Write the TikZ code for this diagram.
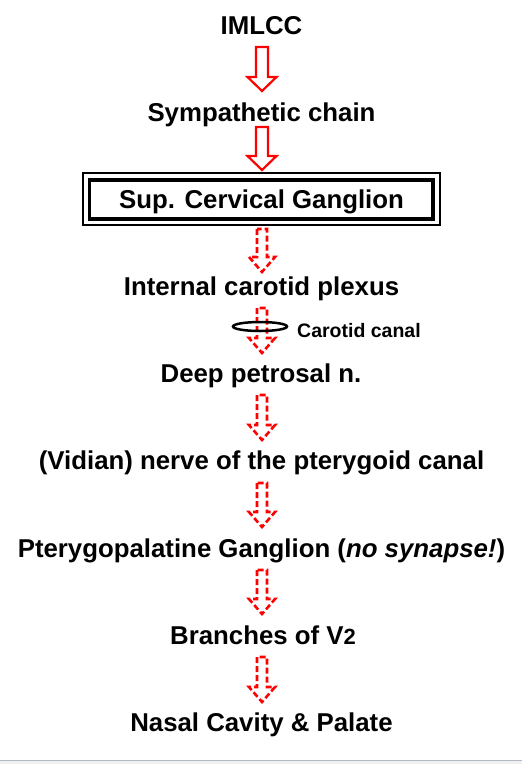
\documentclass[tikz,border=0pt]{standalone}
\usepackage{fontspec}
\setmainfont{Liberation Sans}
\usetikzlibrary{calc}
\definecolor{arrred}{RGB}{255,0,0}
\definecolor{barline}{RGB}{178,186,200}
\definecolor{barfill}{RGB}{240,240,240}
\newcommand{\blockarr}[6]{% style, top, tip, shaft half width, head half width, head length
  \draw[#1] ($(#2)+(-#4,0)$) -- ($(#3)+(-#4,-#6)$) -- ($(#3)+(-#5,-#6)$) -- (#3)
    -- ($(#3)+(#5,-#6)$) -- ($(#3)+(#4,-#6)$) -- ($(#2)+(#4,0)$) -- cycle;}
\begin{document}
\begin{tikzpicture}[x=1pt,y=-1pt,
  lbl/.style={font=\bfseries\fontsize{25.8}{30}\selectfont, inner sep=0pt, anchor=base},
  small/.style={font=\bfseries\fontsize{19.5}{22}\selectfont, inner sep=0pt, anchor=base west},
  solidarr/.style={draw=arrred, line width=2.2pt, line join=miter},
  dasharr/.style={draw=arrred, line width=2.6pt, dash pattern=on 6pt off 3pt, line join=miter},
  outerbox/.style={draw=black, line width=2.2pt},
  innerbox/.style={draw=black, line width=3.2pt}]
\useasboundingbox (0,0) rectangle (522,764);
\fill[barfill] (0,760) rectangle (522,764);
\draw[barline, line width=1pt] (0,760.5) -- (522,760.5);

\node[lbl] (imlcc) at (261.5,34) {IMLCC};
\node[lbl] (symp) at (261.5,121) {Sympathetic chain};
\node[lbl] (scg) at (261.5,208) {Sup. Cervical Ganglion};
\node[lbl] (icp) at (261.5,295.5) {Internal carotid plexus};
\node[lbl] (dpn) at (261,382.5) {Deep petrosal n.};
\node[lbl] (vid) at (261.5,469.5) {(Vidian) nerve of the pterygoid canal};
\node[lbl] (ptg) at (261.5,557) {Pterygopalatine Ganglion (\textit{no synapse!})};
\node[lbl] (v2) at (263,644) {Branches of V{\fontsize{22}{24}\selectfont 2}};
\node[lbl] (nasal) at (261.5,731) {Nasal Cavity \& Palate};
\node[small] (canaltxt) at (297,337) {Carotid canal};

\draw[outerbox] (83,173) rectangle (440,225);
\draw[innerbox] (89.5,180) rectangle (433,219);

\coordinate (a1s) at (262,47);  \coordinate (a1e) at (262,91);
\coordinate (a2s) at (262,127); \coordinate (a2e) at (262,170);
\coordinate (a3s) at (262,229); \coordinate (a3e) at (262,272);
\coordinate (a4s) at (262,308); \coordinate (a4e) at (262,353);
\coordinate (a5s) at (262,395); \coordinate (a5e) at (262,440);
\coordinate (a6s) at (262,483); \coordinate (a6e) at (262,527);
\coordinate (a7s) at (262,570); \coordinate (a7e) at (262,614);
\coordinate (a8s) at (262,657); \coordinate (a8e) at (262,702);

\blockarr{solidarr}{a1s}{a1e}{6}{14.5}{14}
\blockarr{solidarr}{a2s}{a2e}{6}{14.5}{14}
\blockarr{dasharr}{a3s}{a3e}{5}{13}{15}
\blockarr{dasharr}{a4s}{a4e}{5}{13}{15}
\blockarr{dasharr}{a5s}{a5e}{5}{13}{15}
\blockarr{dasharr}{a6s}{a6e}{5}{13}{15}
\blockarr{dasharr}{a7s}{a7e}{5}{13}{15}
\blockarr{dasharr}{a8s}{a8e}{5}{13}{15}

\draw[black, line width=2.5pt] (260,326.5) ellipse [x radius=27, y radius=4.5];
\end{tikzpicture}
\end{document}
